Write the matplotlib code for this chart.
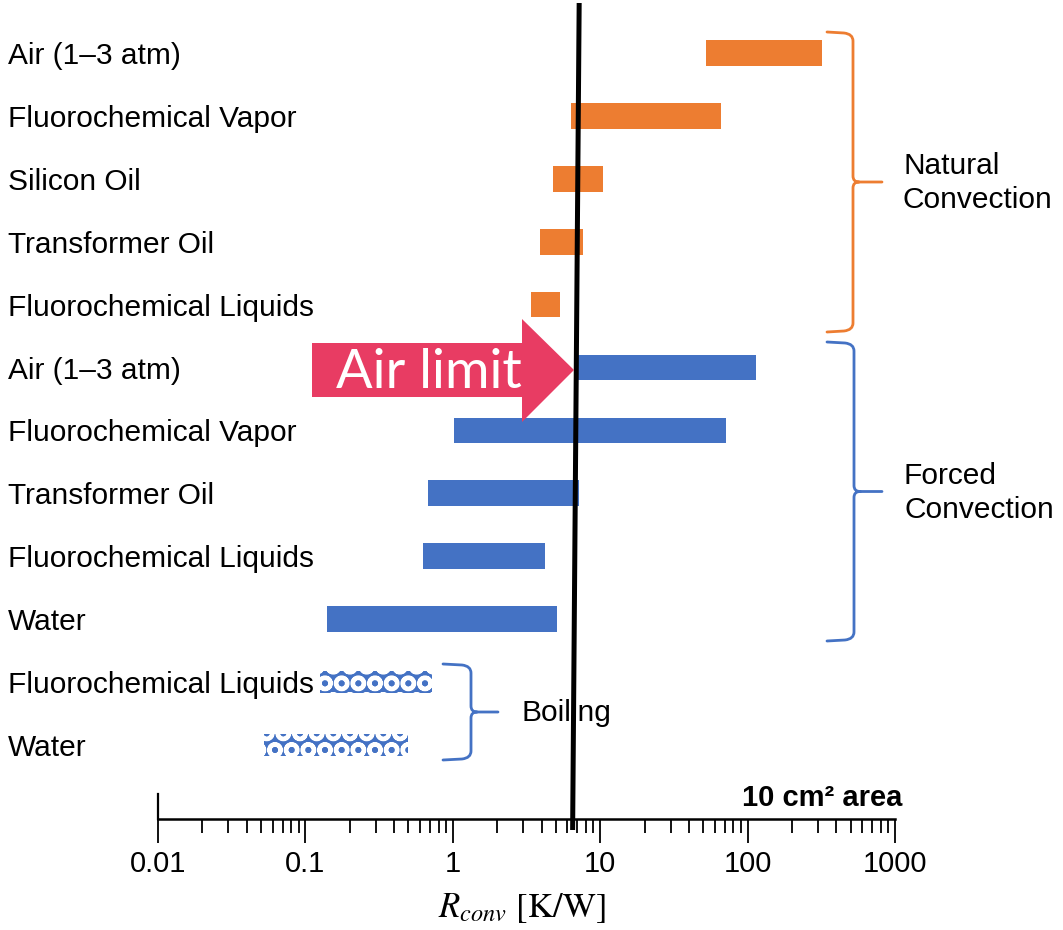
import matplotlib

matplotlib.use("Agg")
import matplotlib.pyplot as plt
import numpy as np
from matplotlib.patches import PathPatch, Polygon
from matplotlib.path import Path
from matplotlib.ticker import FixedFormatter, FixedLocator, LogLocator, NullFormatter
from matplotlib.transforms import blended_transform_factory, offset_copy

# Thermal resistance ranges, R_conv [K/W], for a 10 cm^2 area
NATURAL_LABELS = ["Air (1–3 atm)", "Fluorochemical Vapor", "Silicon Oil",
                  "Transformer Oil", "Fluorochemical Liquids"]
NATURAL_LOW = [52, 6.3, 4.8, 3.9, 3.4]
NATURAL_HIGH = [320, 66, 10.4, 7.6, 5.3]

FORCED_LABELS = ["Air (1–3 atm)", "Fluorochemical Vapor", "Transformer Oil",
                 "Fluorochemical Liquids", "Water"]
FORCED_LOW = [7.0, 1.02, 0.68, 0.63, 0.14]
FORCED_HIGH = [114, 71, 7.2, 4.2, 5.1]

BOILING_LABELS = ["Fluorochemical Liquids", "Water"]
BOILING_LOW = [0.126, 0.052]
BOILING_HIGH = [0.72, 0.50]

AIR_LIMIT_TOP = 7.2
AIR_LIMIT_BOTTOM = 6.5

X_TICKS = [0.01, 0.1, 1, 10, 100, 1000]
X_TICK_LABELS = ["0.01", "0.1", "1", "10", "100", "1000"]

# layout (pixels)
FIG_W, FIG_H, DPI = 1063, 930, 100
AX_LEFT, AX_RIGHT, AX_BOTTOM = 158, 895, 819
ROW0_PX, ROW_STEP_PX = 53, 62.9

ORANGE = "#ED7D31"
BLUE = "#4472C4"
PINK = "#E83C63"
FONT = "Liberation Sans"
FS = 21


def fig_xy(x, y):
    return x / FIG_W, 1 - y / FIG_H


def draw_brace(fig, x_end, x_line, x_tip, y_top, y_bot, color, r=9, rm=6):
    y_mid = (y_top + y_bot) / 2
    steps = [
        (Path.MOVETO, (x_end, y_top)),
        (Path.LINETO, (x_line - r, y_top + 1)),
        (Path.CURVE3, (x_line, y_top + 2)),
        (Path.CURVE3, (x_line, y_top + r)),
        (Path.LINETO, (x_line, y_mid - rm)),
        (Path.CURVE3, (x_line, y_mid)),
        (Path.CURVE3, (x_line + rm, y_mid)),
        (Path.LINETO, (x_tip, y_mid)),
        (Path.MOVETO, (x_line + rm, y_mid)),
        (Path.CURVE3, (x_line, y_mid)),
        (Path.CURVE3, (x_line, y_mid + rm)),
        (Path.LINETO, (x_line, y_bot - r)),
        (Path.CURVE3, (x_line, y_bot - 2)),
        (Path.CURVE3, (x_line - r, y_bot - 1)),
        (Path.LINETO, (x_end, y_bot)),
    ]
    codes = [c for c, _ in steps]
    verts = [fig_xy(*p) for _, p in steps]
    fig.patches.append(PathPatch(Path(verts, codes), fill=False, edgecolor=color, lw=2.0,
                                 capstyle="round", joinstyle="round", transform=fig.transFigure))


def main():
    plt.rcParams["mathtext.fontset"] = "stix"
    plt.rcParams["hatch.linewidth"] = 3.0

    fig = plt.figure(figsize=(FIG_W / DPI, FIG_H / DPI), dpi=DPI)
    ax = fig.add_axes([AX_LEFT / FIG_W, (FIG_H - AX_BOTTOM) / FIG_H,
                       (AX_RIGHT - AX_LEFT) / FIG_W, AX_BOTTOM / FIG_H])

    ax.set_xscale("log")
    ax.set_xlim(X_TICKS[0], X_TICKS[-1])
    ax.set_ylim((AX_BOTTOM - ROW0_PX) / ROW_STEP_PX, -ROW0_PX / ROW_STEP_PX)

    labels = NATURAL_LABELS + FORCED_LABELS + BOILING_LABELS
    rows = np.arange(len(labels))
    n_nat, n_for = len(NATURAL_LABELS), len(FORCED_LABELS)

    ax.barh(rows[:n_nat], np.array(NATURAL_HIGH) - np.array(NATURAL_LOW), left=NATURAL_LOW,
            height=0.41, color=ORANGE, zorder=2)
    ax.barh(rows[n_nat:n_nat + n_for], np.array(FORCED_HIGH) - np.array(FORCED_LOW), left=FORCED_LOW,
            height=0.41, color=BLUE, zorder=2)
    ax.barh(rows[n_nat + n_for:], np.array(BOILING_HIGH) - np.array(BOILING_LOW), left=BOILING_LOW,
            height=0.36, color=BLUE, edgecolor="white", hatch="O", linewidth=0, zorder=2)

    # row labels at the left edge of the figure, a touch below the bar centres
    trans = offset_copy(blended_transform_factory(fig.transFigure, ax.transData),
                        fig=fig, y=-2.2, units="points")
    for row, label in zip(rows, labels):
        ax.text(8 / FIG_W, row, label, transform=trans, ha="left", va="center",
                fontsize=21.5, family=FONT, clip_on=False)

    # air limit line
    y_top = (3 - ROW0_PX) / ROW_STEP_PX
    y_bot = (830 - ROW0_PX) / ROW_STEP_PX
    ax.plot([AIR_LIMIT_TOP, AIR_LIMIT_BOTTOM], [y_top, y_bot], color="black", lw=3.6,
            clip_on=False, zorder=6, solid_capstyle="butt")

    # axis styling
    for side in ["left", "right", "top"]:
        ax.spines[side].set_visible(False)
    ax.spines["bottom"].set_linewidth(1.8)
    ax.axvline(X_TICKS[0], 0, 25 / AX_BOTTOM, color="black", lw=1.6, clip_on=False)
    ax.set_yticks([])
    ax.xaxis.set_major_locator(FixedLocator(X_TICKS))
    ax.xaxis.set_major_formatter(FixedFormatter(X_TICK_LABELS))
    ax.xaxis.set_minor_locator(LogLocator(base=10, subs=np.arange(2, 10)))
    ax.xaxis.set_minor_formatter(NullFormatter())
    ax.tick_params(axis="x", which="major", direction="out", length=17, width=1.3, pad=5,
                   labelsize=FS)
    ax.tick_params(axis="x", which="minor", direction="out", length=10, width=1.3)
    for lab in ax.get_xticklabels():
        lab.set_family(FONT)

    ax.set_xlabel(r"$R_{conv}$ [K/W]", fontsize=25, family="STIXGeneral")
    ax.xaxis.set_label_coords(0.494, -(917 - AX_BOTTOM) / AX_BOTTOM)
    ax.xaxis.label.set_va("baseline")

    ax.text((902 - AX_LEFT) / (AX_RIGHT - AX_LEFT), (AX_BOTTOM - 806) / AX_BOTTOM, "10 cm² area",
            transform=ax.transAxes, ha="right", va="baseline", fontsize=FS, family=FONT,
            fontweight="bold")

    # "Air limit" arrow
    arrow_px = [(312, 343), (522, 343), (522, 319), (574, 370), (522, 422), (522, 397), (312, 397)]
    fig.patches.append(Polygon([fig_xy(*p) for p in arrow_px], closed=True, facecolor=PINK,
                               edgecolor="none", transform=fig.transFigure, zorder=7))
    fig.text(*fig_xy(429, 372), "Air limit", ha="center", va="center", color="white",
             fontsize=39, family="Lato", zorder=8)

    # group braces
    draw_brace(fig, 827, 853, 882, 32, 332, ORANGE)
    draw_brace(fig, 827, 854, 882, 342, 641, BLUE)
    draw_brace(fig, 443, 471, 498, 664, 760, BLUE)
    fig.text(*fig_xy(903, 183), "Natural\nConvection", ha="left", va="center", fontsize=21.5,
             family=FONT, linespacing=1.3)
    fig.text(*fig_xy(904, 493), "Forced\nConvection", ha="left", va="center", fontsize=21.5,
             family=FONT, linespacing=1.3)
    ax.text(*fig_xy(522, 713), "Boiling", transform=fig.transFigure, ha="left",
            va="center", fontsize=21.5, family=FONT, zorder=1)

    fig.savefig("out.png", dpi=DPI)
    plt.close(fig)


if __name__ == "__main__":
    main()
